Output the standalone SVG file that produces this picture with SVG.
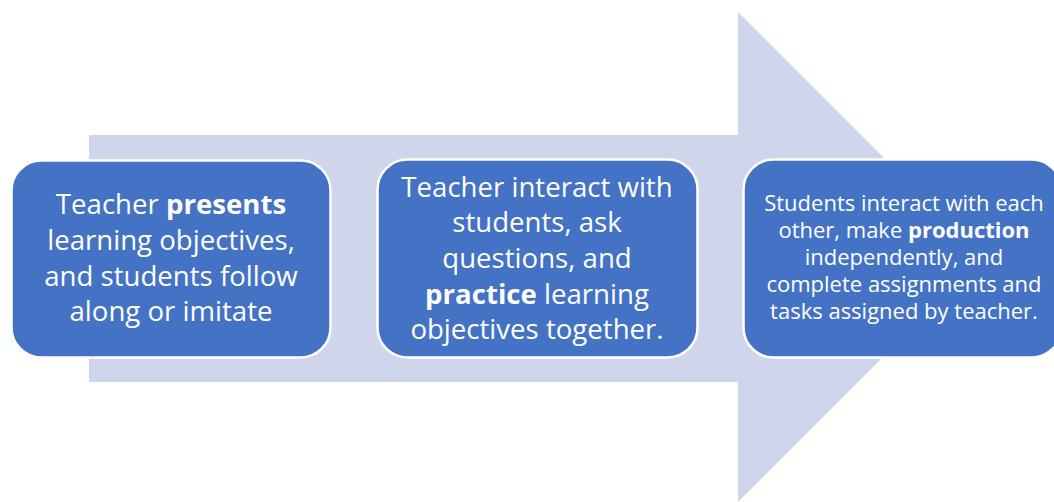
<svg xmlns="http://www.w3.org/2000/svg" width="1054" height="502" viewBox="0 0 1054 502">
<style>
.box{fill:#4472C4;stroke:#FFFFFF;stroke-width:2.5}
.t{font-family:"Open Sans","Liberation Sans",sans-serif;fill:#FFFFFF;text-anchor:middle}
.big{font-size:27.6px}
.small{font-size:22px}
.b{font-weight:bold}
</style>
<rect width="1054" height="502" fill="#FFFFFF"/>
<g id="connectors">
<path id="arrow" d="M89 135 L738 135 L738 12 L983 257 L738 502 L738 382 L89 382 Z" fill="#CFD5EA"/>
</g>
<g id="node1">
<rect class="box" x="11.5" y="160.5" width="319" height="197" rx="30"/>
<text class="t big" x="171" y="214">Teacher <tspan class="b">presents</tspan></text>
<text class="t big" x="171" y="250">learning objectives,</text>
<text class="t big" x="171" y="286">and students follow</text>
<text class="t big" x="171" y="321">along or imitate</text>
</g>
<g id="node2">
<rect class="box" x="377.5" y="159.5" width="320" height="198" rx="30"/>
<text class="t big" x="537" y="197">Teacher interact with</text>
<text class="t big" x="537" y="232">students, ask</text>
<text class="t big" x="537" y="268">questions, and</text>
<text class="t big" x="537" y="304"><tspan class="b">practice</tspan> learning</text>
<text class="t big" x="537" y="339">objectives together.</text>
</g>
<g id="node3">
<rect class="box" x="743.5" y="159.5" width="318" height="198" rx="30"/>
<text class="t small" x="904" y="211">Students interact with each</text>
<text class="t small" x="904" y="238">other, make <tspan class="b">production</tspan></text>
<text class="t small" x="904" y="265">independently, and</text>
<text class="t small" x="904" y="292">complete assignments and</text>
<text class="t small" x="904" y="319">tasks assigned by teacher.</text>
</g>
</svg>
